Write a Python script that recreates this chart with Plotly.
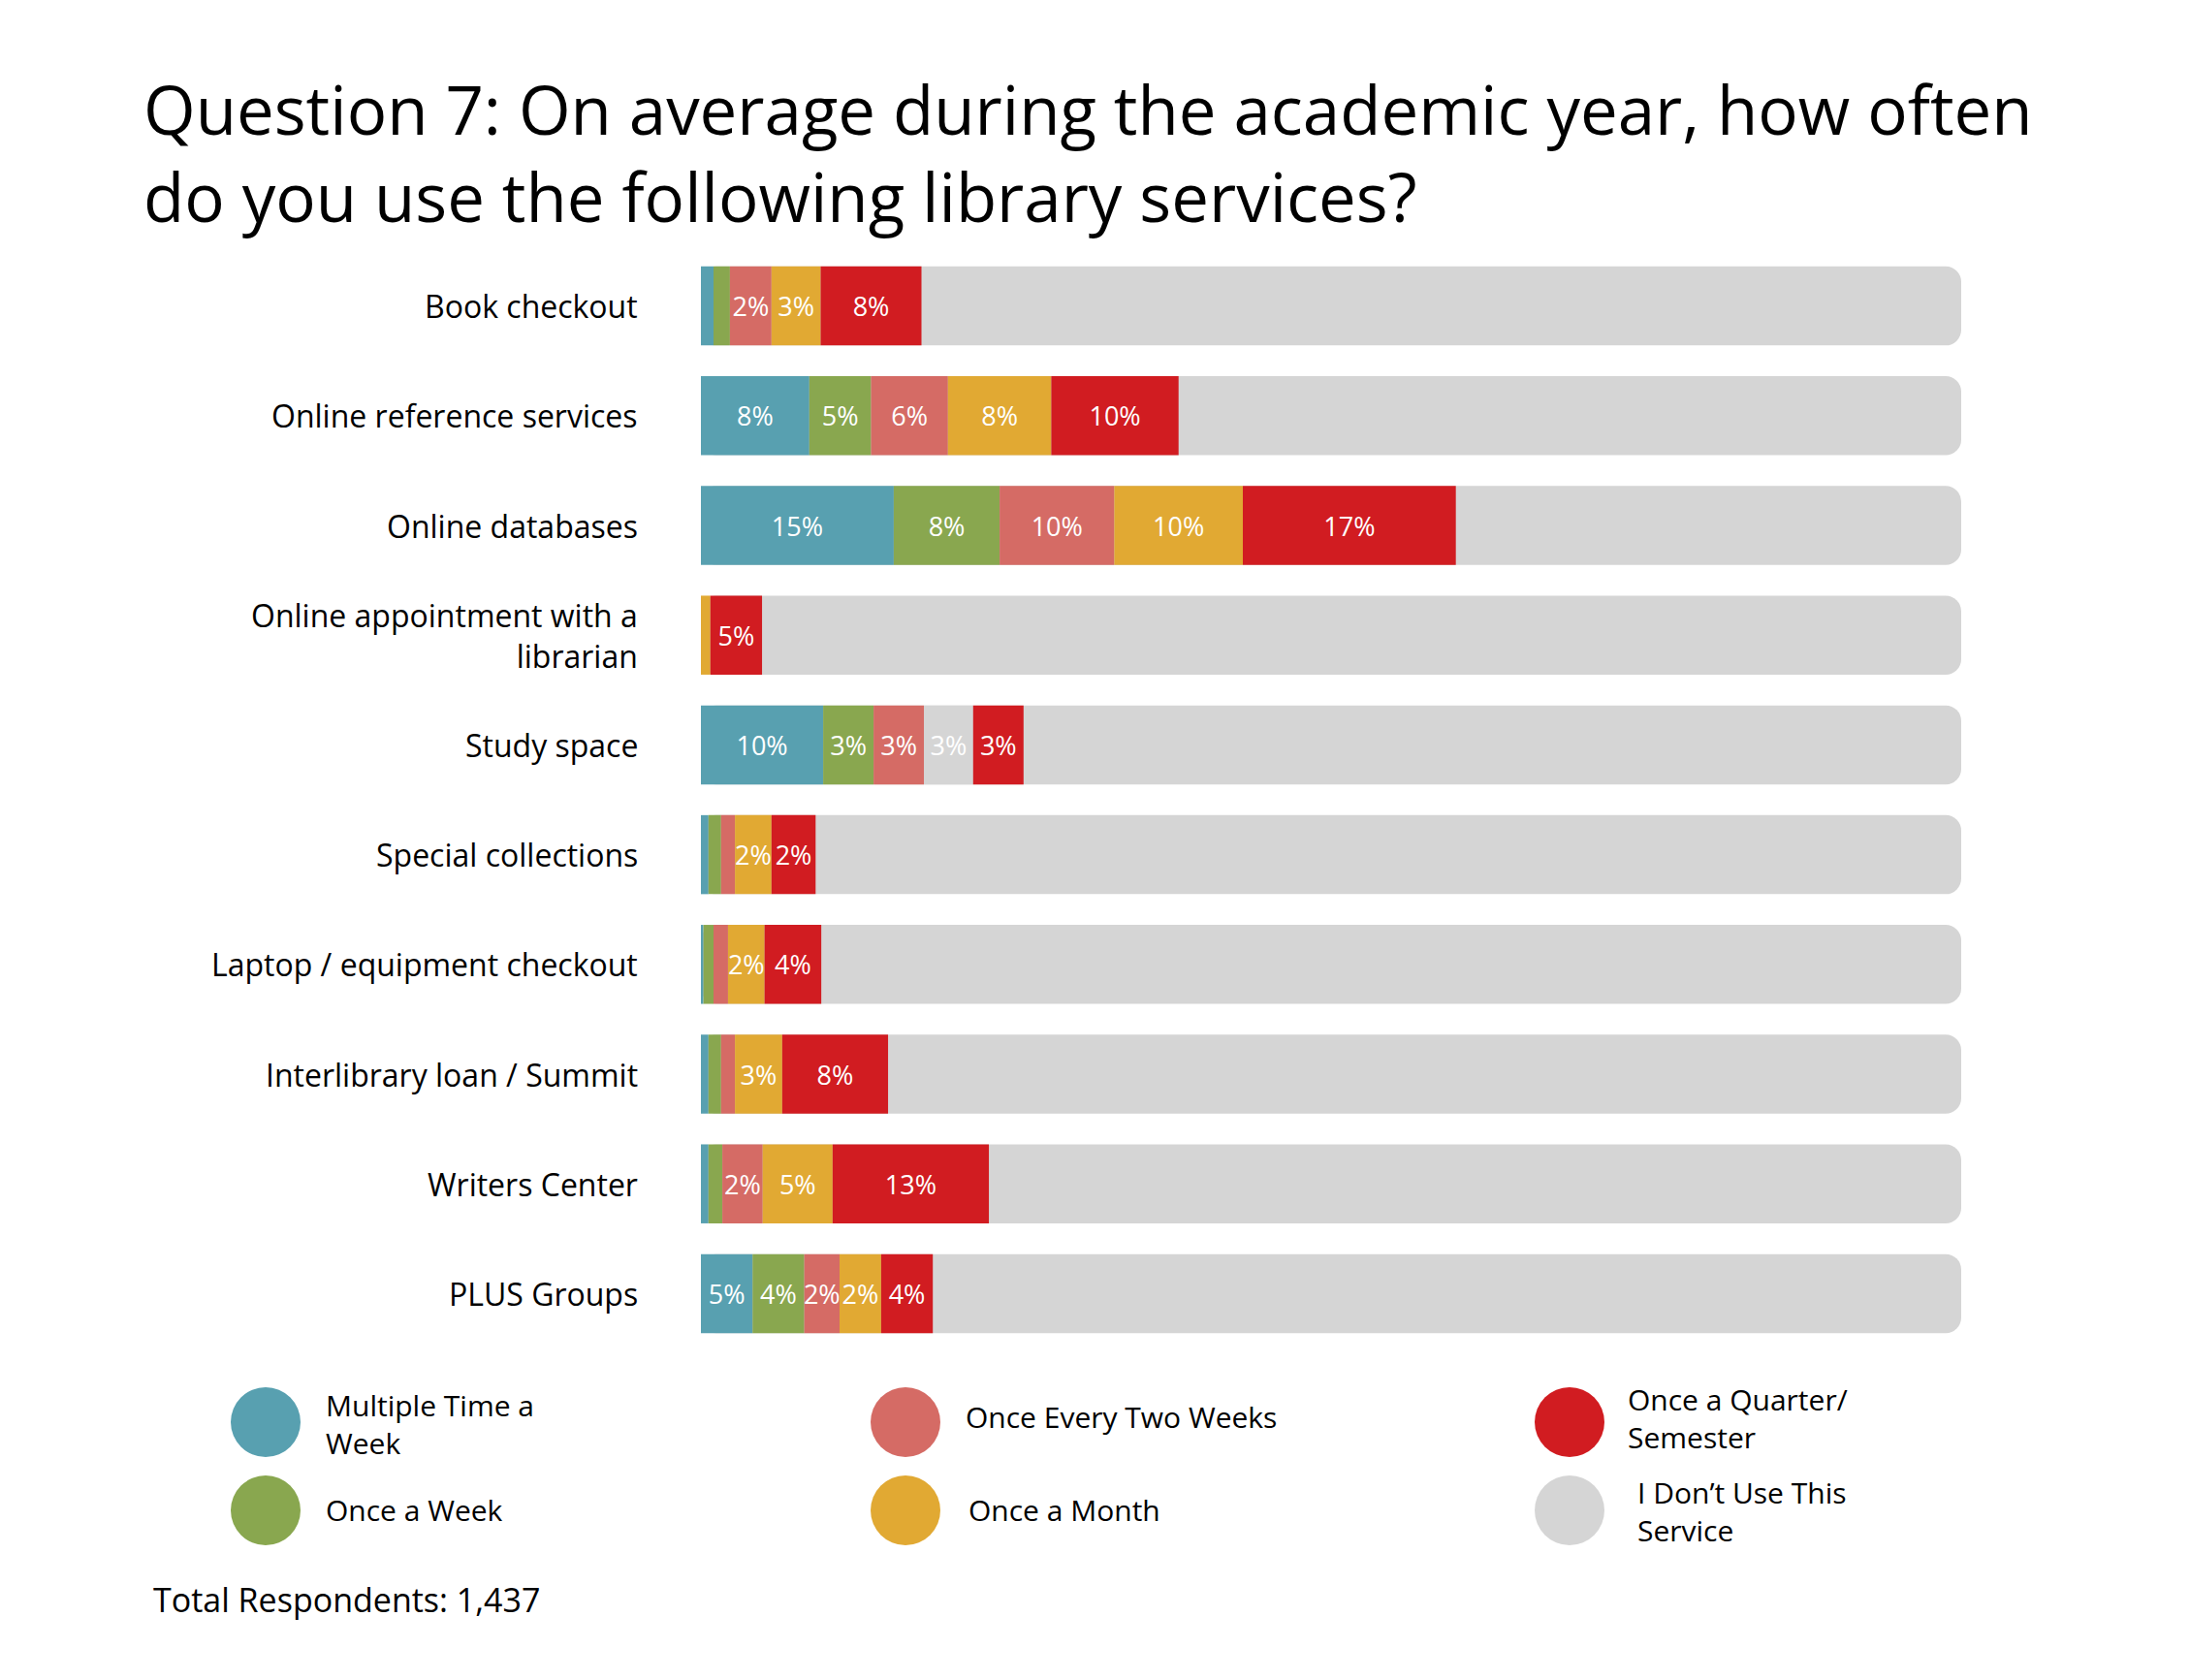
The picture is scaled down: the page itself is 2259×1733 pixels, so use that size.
import plotly.graph_objects as go

# ---------------- data ----------------
categories = [
    "Book checkout",
    "Online reference services",
    "Online databases",
    "Online appointment with a<br>librarian",
    "Study space",
    "Special collections",
    "Laptop / equipment checkout",
    "Interlibrary loan / Summit",
    "Writers Center",
    "PLUS Groups",
]

series_names = [
    "Multiple Time a Week",
    "Once a Week",
    "Once Every Two Weeks",
    "Once a Month",
    "Once a Quarter/ Semester",
]

multiple_week = [1.0, 8.6, 15.3, 0.0, 9.7, 0.6, 0.2, 0.6, 0.6, 4.1]
once_week     = [1.3, 4.9, 8.4, 0.0, 4.0, 1.0, 0.8, 1.0, 1.1, 4.1]
two_weeks     = [3.3, 6.1, 9.1, 0.0, 4.0, 1.1, 1.15, 1.1, 3.2, 2.8]
once_month    = [3.9, 8.2, 10.2, 0.75, 3.9, 2.9, 2.9, 3.75, 5.55, 3.3]
quarter       = [8.0, 10.1, 16.9, 4.1, 4.0, 3.5, 4.5, 8.4, 12.4, 4.1]
dont_use_track = 100  # grey track: the full 100 % of respondents

lab_multiple = ["", "8%", "15%", "", "10%", "", "", "", "", "5%"]
lab_week     = ["", "5%", "8%", "", "3%", "", "", "", "", "4%"]
lab_two      = ["2%", "6%", "10%", "", "3%", "", "", "", "2%", "2%"]
lab_month    = ["3%", "8%", "10%", "", "3%", "2%", "2%", "3%", "5%", "2%"]
lab_quarter  = ["8%", "10%", "17%", "5%", "3%", "2%", "4%", "8%", "13%", "4%"]

total_respondents = "1,437"

# ---------------- style ----------------
BLUE = "#58A0B0"
GREEN = "#89A74F"
PINK = "#D56B65"
ORANGE = "#E1A933"
RED = "#D11C21"
GRAY = "#D5D5D5"

FONT = "'Open Sans', 'Noto Sans', sans-serif"

W, H = 2259, 1733
L, R = 723, 2023
T, B = 259.4, 1391.0


def px_x(px):
    return (px - L) / (R - L)


def px_y(py):
    return (B - py) / (B - T)


values = [multiple_week, once_week, two_weeks, once_month, quarter]
labels = [lab_multiple, lab_week, lab_two, lab_month, lab_quarter]
colors = [BLUE, GREEN, PINK, ORANGE, RED]

fig = go.Figure()

# grey track ("I Don't Use This Service")
fig.add_trace(go.Bar(
    y=categories, x=[dont_use_track] * len(categories), base=0, orientation="h",
    marker=dict(color=GRAY, line=dict(width=0), cornerradius=16),
    width=0.72, name="I Don't Use This Service", hoverinfo="skip",
))

base = [0.0] * len(categories)
for name, vals, labs, col in zip(series_names, values, labels, colors):
    if name == "Once a Month":
        # the reference draws the Study space "once a month" block in grey
        mcol = [GRAY if c == "Study space" else col for c in categories]
    else:
        mcol = col
    fig.add_trace(go.Bar(
        y=categories, x=vals, base=list(base), orientation="h",
        marker=dict(color=mcol, line=dict(width=0)),
        width=0.72, name=name, text=labs,
        textposition="inside", insidetextanchor="middle", textangle=0,
        constraintext="none",
        textfont=dict(color="white", size=27, family=FONT),
        cliponaxis=False,
    ))
    base = [b + v for b, v in zip(base, vals)]

fig.update_layout(
    width=W, height=H,
    barmode="overlay",
    showlegend=False,
    plot_bgcolor="white", paper_bgcolor="white",
    margin=dict(l=L, r=W - R, t=T, b=H - B, pad=0),
    uniformtext=dict(minsize=27, mode="show"),
    xaxis=dict(range=[0, dont_use_track], visible=False, fixedrange=True),
    yaxis=dict(
        type="category", autorange="reversed", showgrid=False, zeroline=False,
        showline=False, ticks="", showticklabels=False,
    ),
)

annotations = []
# category labels
for c in categories:
    annotations.append(dict(
        text=c, xref="paper", yref="y", x=px_x(660), y=c,
        xanchor="right", yanchor="middle", align="right", showarrow=False,
        font=dict(family=FONT, size=32, color="black"),
    ))

# title
annotations.append(dict(
    text="Question 7: On average during the academic year, how often<br>do you use the following library services?",
    xref="paper", yref="paper", x=px_x(146), y=px_y(157),
    xanchor="left", yanchor="middle", align="left", showarrow=False,
    font=dict(family=FONT, size=69, color="black"),
))

# legend (manual)
legend_items = [
    ("Multiple Time a<br>Week", BLUE, 274, 1467, 334, 1469),
    ("Once a Week", GREEN, 274, 1558, 334, 1557),
    ("Once Every Two Weeks", PINK, 934, 1467, 994, 1461),
    ("Once a Month", ORANGE, 934, 1558, 997, 1557),
    ("Once a Quarter/<br>Semester", RED, 1619, 1467, 1677, 1463),
    ("I Don’t Use This<br>Service", GRAY, 1619, 1558, 1687, 1559),
]
shapes = []
for text, col, cx, cy, tx, ty in legend_items:
    shapes.append(dict(
        type="circle", xref="paper", yref="paper",
        xsizemode="pixel", ysizemode="pixel",
        xanchor=px_x(cx), yanchor=px_y(cy),
        x0=-36, x1=36, y0=-36, y1=36,
        fillcolor=col, line=dict(width=0),
    ))
    annotations.append(dict(
        text=text, xref="paper", yref="paper", x=px_x(tx), y=px_y(ty),
        xanchor="left", yanchor="middle", align="left", showarrow=False,
        font=dict(family=FONT, size=30, color="black"),
    ))

annotations.append(dict(
    text="Total Respondents: " + total_respondents,
    xref="paper", yref="paper", x=px_x(156), y=px_y(1650),
    xanchor="left", yanchor="middle", align="left", showarrow=False,
    font=dict(family=FONT, size=34, color="black"),
))

fig.update_layout(annotations=annotations, shapes=shapes)

fig.write_html("out.html")
